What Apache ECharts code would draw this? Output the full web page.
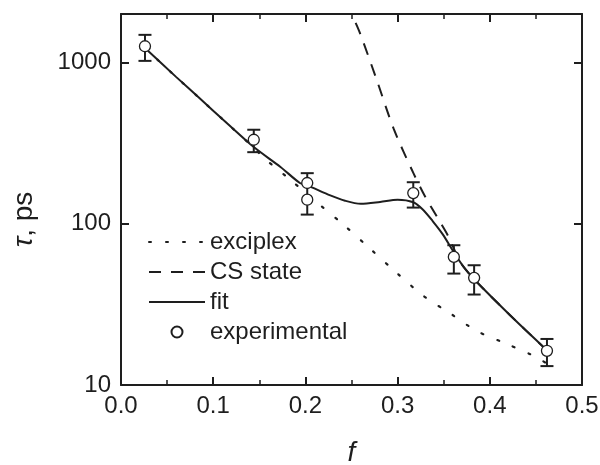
<!DOCTYPE html>
<html>
<head>
<meta charset="utf-8">
<script src="https://cdn.jsdelivr.net/npm/echarts@6/dist/echarts.min.js"></script>
<style>
html,body{margin:0;padding:0;background:#fff;}
#chart{width:600px;height:465px;}
</style>
</head>
<body>
<div id="chart"></div>
<script>
// ---- data ----
const xTicks = [0.0, 0.1, 0.2, 0.3, 0.4, 0.5];
const yTicks = [10, 100, 1000];

const expF   = [0.026, 0.144, 0.202, 0.202, 0.317, 0.361, 0.383, 0.462];
const expTau = [1262, 332, 179, 141, 155, 62.3, 46.2, 16.3];

const errF    = [0.026, 0.144, 0.202, 0.317, 0.361, 0.383, 0.462];
const errLow  = [1024, 278, 114, 126, 49.1, 36.4, 13.1];
const errHigh = [1485, 383, 206, 181, 73.6, 55.3, 19.3];

const fitF   = [0.026, 0.06, 0.085, 0.115, 0.144, 0.173, 0.194, 0.202, 0.227, 0.243, 0.260, 0.281, 0.300, 0.317, 0.327, 0.338, 0.349, 0.361, 0.371, 0.383, 0.422, 0.463];
const fitTau = [1230, 812, 602, 420, 299, 225, 179, 173, 150, 139, 133, 136.5, 141, 136, 123, 104, 86, 66.6, 54.6, 45.3, 27.1, 16.2];

const excF   = [0.026, 0.06, 0.085, 0.115, 0.144, 0.156, 0.185, 0.214, 0.242, 0.270, 0.299, 0.328, 0.357, 0.386, 0.415, 0.444, 0.460];
const excTau = [1230, 812, 602, 420, 296, 253, 184.6, 133.4, 97.9, 70.2, 49.6, 35.7, 27.8, 21.6, 18.3, 15.5, 13.8];

const csF   = [0.245, 0.2505, 0.2595, 0.2776, 0.2957, 0.3174, 0.3301, 0.3428, 0.3554, 0.3681, 0.383, 0.422, 0.463];
const csTau = [2345, 1982, 1505, 773, 389, 204.6, 146.6, 110.2, 82.8, 57.7, 45.3, 27.1, 16.2];

const seriesNames = ['exciplex', 'CS state', 'fit', 'experimental'];

// ---- chart ----
const zip = (a, b) => a.map((v, i) => [v, b[i]]);
const INK = '#1e1e1e';
const FONT = '"Liberation Sans", Arial, sans-serif';
const CLEAR = 'rgba(0,0,0,0)';

const chart = echarts.init(document.getElementById('chart'), null, {renderer: 'canvas'});

function xAxisCfg(pos, labels) {
  return {
    type: 'value', position: pos, min: xTicks[0], max: xTicks[xTicks.length - 1], interval: 0.1,
    axisLine: {show: true, onZero: false, lineStyle: {color: INK, width: 2}},
    axisTick: {show: true, inside: true, length: 8, lineStyle: {color: INK, width: 2}},
    minorTick: {show: true, splitNumber: 2, length: 5, lineStyle: {color: INK, width: 1.5}},
    splitLine: {show: false},
    axisLabel: {show: labels, fontSize: 24, color: INK, fontFamily: FONT, margin: 9,
      formatter: v => v.toFixed(1)},
    name: labels ? 'f' : '', nameLocation: 'middle', nameGap: 54,
    nameTextStyle: {fontSize: 28, fontStyle: 'italic', color: INK, fontFamily: FONT}
  };
}
function yAxisCfg(pos, labels) {
  return {
    type: 'log', logBase: 10, position: pos, min: yTicks[0], max: 2000,
    axisLine: {show: true, onZero: false, lineStyle: {color: INK, width: 2}},
    axisTick: {show: true, inside: true, length: 8, lineStyle: {color: INK, width: 2}},
    minorTick: {show: false},
    splitLine: {show: false},
    axisLabel: {show: labels, fontSize: 24, color: INK, fontFamily: FONT, margin: 10,
      showMaxLabel: false,
      formatter: v => (yTicks.indexOf(Math.round(v)) >= 0 ? String(Math.round(v)) : '')},
    name: labels ? '{it|τ}, ps' : '', nameLocation: 'middle', nameGap: 83,
    nameTextStyle: {fontSize: 28, color: INK, fontFamily: FONT, padding: [0, 40, 0, 0],
      rich: {it: {fontSize: 28, fontStyle: 'italic', color: INK, fontFamily: FONT}}}
  };
}

const lineLegendStyle = {color: CLEAR, borderColor: CLEAR, borderWidth: 0, opacity: 0};

const option = {
  backgroundColor: '#fff',
  animation: false,
  textStyle: {fontFamily: FONT},
  grid: {left: 121, right: 18, top: 14, bottom: 80, containLabel: false, outerBoundsMode: 'none'},
  xAxis: [xAxisCfg('bottom', true), xAxisCfg('top', false)],
  yAxis: [yAxisCfg('left', true), yAxisCfg('right', false)],
  legend: {
    orient: 'vertical', left: 148, top: 230, padding: 0,
    itemWidth: 56, itemHeight: 11, itemGap: 6,
    data: [
      {name: seriesNames[0], itemStyle: lineLegendStyle},
      {name: seriesNames[1], itemStyle: lineLegendStyle},
      {name: seriesNames[2], itemStyle: lineLegendStyle},
      {name: seriesNames[3]}
    ],
    textStyle: {fontSize: 24, color: INK, fontFamily: FONT}
  },
  series: [
    {
      name: seriesNames[0], type: 'line', data: zip(excF, excTau), smooth: 0.3,
      symbol: 'none', showSymbol: false, z: 2,
      lineStyle: {color: INK, width: 2.2, type: [2, 15], cap: 'round'},
      itemStyle: {color: INK}
    },
    {
      name: seriesNames[1], type: 'line', data: zip(csF, csTau), smooth: 0.3,
      symbol: 'none', showSymbol: false, z: 2, clip: true,
      lineStyle: {color: INK, width: 2, type: [12, 10]},
      itemStyle: {color: INK}
    },
    {
      name: seriesNames[2], type: 'line', data: zip(fitF, fitTau), smooth: 0.3,
      symbol: 'none', showSymbol: false, z: 3,
      lineStyle: {color: INK, width: 2},
      itemStyle: {color: INK}
    },
    {
      type: 'custom', z: 4, silent: true,
      data: errF.map((f, i) => [f, errLow[i], errHigh[i]]),
      encode: {x: 0, y: [1, 2]},
      renderItem: function (params, api) {
        const lo = api.coord([api.value(0), api.value(1)]);
        const hi = api.coord([api.value(0), api.value(2)]);
        const w = 6.5;
        const st = {stroke: INK, lineWidth: 2};
        return {
          type: 'group',
          children: [
            {type: 'line', shape: {x1: lo[0], y1: lo[1], x2: hi[0], y2: hi[1]}, style: st},
            {type: 'line', shape: {x1: lo[0] - w, y1: lo[1], x2: lo[0] + w, y2: lo[1]}, style: st},
            {type: 'line', shape: {x1: hi[0] - w, y1: hi[1], x2: hi[0] + w, y2: hi[1]}, style: st}
          ]
        };
      }
    },
    {
      name: seriesNames[3], type: 'scatter', data: zip(expF, expTau), z: 5,
      symbol: 'circle', symbolSize: 11,
      itemStyle: {color: '#fff', borderColor: INK, borderWidth: 1.3, opacity: 1}
    }
  ]
};
chart.setOption(option);
</script>
</body>
</html>
